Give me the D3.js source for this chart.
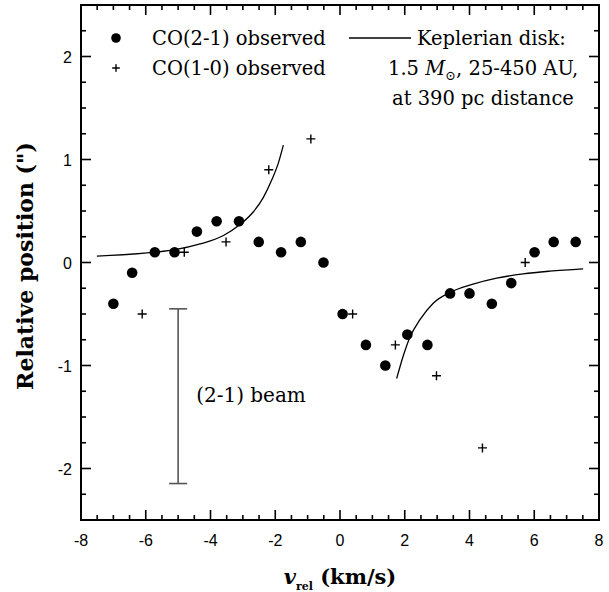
<!DOCTYPE html>
<html>
<head>
<meta charset="utf-8">
<script src="https://cdn.jsdelivr.net/npm/d3@7"></script>
<style>
  body { margin: 0; background: #fff; }
  svg text { fill: #000; }
</style>
</head>
<body>
<svg id="chart" width="609" height="592"></svg>
<script>
// CO(2-1) observed (filled circles)
const co21Vel = [-7.0, -6.42, -5.72, -5.11, -4.42, -3.81, -3.12, -2.51, -1.82, -1.21, -0.51, 0.08,
                 0.80, 1.40, 2.08, 2.70, 3.40, 4.00, 4.69, 5.29, 6.01, 6.60, 7.28];
const co21Pos = [-0.4, -0.1, 0.1, 0.1, 0.3, 0.4, 0.4, 0.2, 0.1, 0.2, 0.0, -0.5,
                 -0.8, -1.0, -0.7, -0.8, -0.3, -0.3, -0.4, -0.2, 0.1, 0.2, 0.2];

// CO(1-0) observed (plus signs)
const co10Vel = [-6.11, -4.81, -3.52, -2.20, -0.90, 0.39, 1.71, 2.98, 4.40, 5.72];
const co10Pos = [-0.5, 0.1, 0.2, 0.9, 1.2, -0.5, -0.8, -1.1, -1.8, 0.0];

// Keplerian disk model
const kepLeftVel = [-7.51, -5.71, -5.09, -4.32, -3.60, -3.09, -2.68, -2.37, -2.11, -1.90, -1.75];
const kepLeftPos = [0.062, 0.100, 0.125, 0.180, 0.262, 0.368, 0.49, 0.63, 0.80, 0.97, 1.14];
const kepRightVel = [1.75, 1.96, 2.16, 2.47, 2.88, 3.40, 4.11, 4.84, 5.66, 6.48, 7.51];
const kepRightPos = [-1.126, -0.90, -0.725, -0.555, -0.395, -0.29, -0.21, -0.152, -0.11, -0.084, -0.062];

// beam size marker
const beamVel = -5.0;
const beamRange = [-0.45, -2.146];

const xTicks = [-8, -6, -4, -2, 0, 2, 4, 6, 8];
const yTicks = [-2, -1, 0, 1, 2];

const svg = d3.select("#chart");
const margin = {left: 81, right: 10, top: 5, bottom: 72};
const W = 609, H = 592;

const x = d3.scaleLinear().domain([-8, 8]).range([margin.left, W - margin.right]);
const y = d3.scaleLinear().domain([-2.5, 2.5]).range([H - margin.bottom, margin.top]);

const serif = "'DejaVu Serif', serif";
const sans = "'Liberation Sans', Arial, sans-serif";

// ticks (inward, on all four sides)
const xMinor = d3.range(-8, 8.01, 0.5);
const yMinor = d3.range(-2.5, 2.51, 0.25);
const tickG = svg.append("g").attr("stroke", "#000").attr("stroke-width", 1.6);
xMinor.forEach(v => {
    const len = Math.abs(v % 2) < 1e-6 ? 10 : 5;
    tickG.append("line").attr("x1", x(v)).attr("x2", x(v))
        .attr("y1", y(-2.5)).attr("y2", y(-2.5) - len);
    tickG.append("line").attr("x1", x(v)).attr("x2", x(v))
        .attr("y1", y(2.5)).attr("y2", y(2.5) + len);
});
yMinor.forEach(v => {
    const len = Math.abs(v % 1) < 1e-6 ? 10 : 5;
    tickG.append("line").attr("x1", x(-8)).attr("x2", x(-8) + len)
        .attr("y1", y(v)).attr("y2", y(v));
    tickG.append("line").attr("x1", x(8)).attr("x2", x(8) - len)
        .attr("y1", y(v)).attr("y2", y(v));
});

// frame
svg.append("rect")
    .attr("x", x(-8)).attr("y", y(2.5))
    .attr("width", x(8) - x(-8)).attr("height", y(-2.5) - y(2.5))
    .attr("fill", "none").attr("stroke", "#000").attr("stroke-width", 2);

// tick labels
svg.append("g").selectAll("text").data(xTicks).join("text")
    .attr("x", d => x(d)).attr("y", y(-2.5) + 26)
    .attr("text-anchor", "middle")
    .attr("font-family", sans).attr("font-size", 16)
    .text(d => d);
svg.append("g").selectAll("text").data(yTicks).join("text")
    .attr("x", x(-8) - 9).attr("y", d => y(d) + 6)
    .attr("text-anchor", "end")
    .attr("font-family", sans).attr("font-size", 16)
    .text(d => d);

// axis titles
svg.append("text")
    .attr("transform", `translate(33, 266) rotate(-90)`)
    .attr("text-anchor", "middle")
    .attr("font-family", serif).attr("font-weight", "bold").attr("font-size", 22)
    .text("Relative position (\")");

const xt = svg.append("text")
    .attr("x", 340).attr("y", 584)
    .attr("text-anchor", "middle")
    .attr("font-family", serif).attr("font-weight", "bold").attr("font-size", 21);
xt.append("tspan").attr("font-style", "italic").text("v");
xt.append("tspan").attr("font-size", 11).attr("dy", 6).text("rel");
xt.append("tspan").attr("dy", -6).text(" (km/s)");

// Keplerian curves
const line = d3.line().x(d => x(d[0])).y(d => y(d[1])).curve(d3.curveMonotoneX);
[[kepLeftVel, kepLeftPos], [kepRightVel, kepRightPos]].forEach(([vs, ps]) => {
    svg.append("path")
        .datum(d3.zip(vs, ps))
        .attr("fill", "none").attr("stroke", "#000").attr("stroke-width", 1.3)
        .attr("d", line);
});

// CO(2-1) circles
svg.append("g").selectAll("circle").data(d3.zip(co21Vel, co21Pos)).join("circle")
    .attr("cx", d => x(d[0])).attr("cy", d => y(d[1])).attr("r", 5.3)
    .attr("fill", "#000");

// CO(1-0) pluses
function drawPlus(g, cx, cy, s) {
    g.append("path")
        .attr("d", `M${cx - s},${cy}H${cx + s}M${cx},${cy - s}V${cy + s}`)
        .attr("stroke", "#000").attr("stroke-width", 1.4).attr("fill", "none");
}
const plusG = svg.append("g");
d3.zip(co10Vel, co10Pos).forEach(d => drawPlus(plusG, x(d[0]), y(d[1]), 4.5));

// beam bar
const bx = x(beamVel);
const beamG = svg.append("g").attr("stroke", "#555").attr("stroke-width", 1.6);
beamG.append("line").attr("x1", bx).attr("x2", bx).attr("y1", y(beamRange[0])).attr("y2", y(beamRange[1]));
beamRange.forEach(v => beamG.append("line")
    .attr("x1", bx - 9).attr("x2", bx + 9).attr("y1", y(v)).attr("y2", y(v)));
svg.append("text")
    .attr("x", bx + 18).attr("y", y((beamRange[0] + beamRange[1]) / 2) + 6)
    .attr("font-family", serif).attr("font-size", 20)
    .text("(2-1) beam");

// legend
const lg = svg.append("g").attr("font-family", serif).attr("font-size", 19.5);
lg.append("circle").attr("cx", 116).attr("cy", 38).attr("r", 4.8).attr("fill", "#000");
lg.append("text").attr("x", 152).attr("y", 44.5).text("CO(2-1) observed");
drawPlus(lg, 116, 68, 3.8);
lg.append("text").attr("x", 152).attr("y", 74.5).text("CO(1-0) observed");

lg.append("line").attr("x1", 349).attr("x2", 411).attr("y1", 38).attr("y2", 38)
    .attr("stroke", "#000").attr("stroke-width", 1.3);
lg.append("text").attr("x", 417).attr("y", 45).text("Keplerian disk:");
const l2 = lg.append("text").attr("x", 388).attr("y", 75);
l2.append("tspan").text("1.5 ");
l2.append("tspan").attr("font-style", "italic").text("M");
l2.append("tspan").attr("font-size", 13).attr("dy", 5).text("\u2299");
l2.append("tspan").attr("dy", -5).text(", 25-450 AU,");
lg.append("text").attr("x", 392).attr("y", 105).text("at 390 pc distance");
</script>
</body>
</html>
